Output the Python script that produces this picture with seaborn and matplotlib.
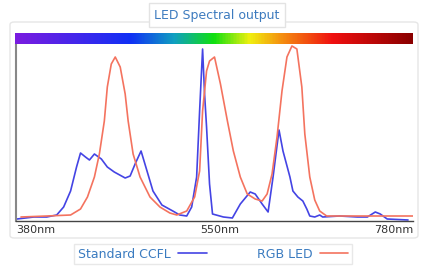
import numpy as np
import pandas as pd
import matplotlib
matplotlib.use("Agg")
import matplotlib.pyplot as plt
import seaborn as sns
from matplotlib.colors import LinearSegmentedColormap
from matplotlib.patches import FancyBboxPatch

# values (wavelength nm, relative intensity)
ccfl_nm = [381, 398, 411, 421, 428, 435, 441, 445, 450, 454, 459, 466, 472, 479, 490, 495,
           500, 506, 512, 518, 527, 538, 545, 552, 557, 562, 565, 568, 570, 572, 575, 578,
           589, 598, 606, 616, 621, 628, 634, 639, 645, 649, 656, 659, 664, 669, 673, 676,
           681, 686, 689, 706, 724, 734, 742, 747, 754, 775]
ccfl_val = [2, 4, 4, 6, 14, 30, 54, 68, 64, 61, 67, 62, 54, 49, 43, 45,
            57, 70, 50, 30, 16, 10, 6, 5, 14, 44, 110, 172, 127, 94, 37, 7,
            4, 3, 17, 29, 27, 17, 9, 44, 91, 70, 44, 30, 24, 20, 12, 5,
            4, 6, 4, 5, 4, 4, 9, 7, 2, 1]

led_nm = [385, 411, 435, 445, 452, 459, 464, 469, 472, 476, 480, 485, 490, 493, 498, 505,
          515, 525, 535, 542, 552, 560, 565, 568, 572, 575, 580, 586, 593, 599, 606, 613,
          621, 628, 633, 638, 643, 648, 653, 658, 663, 668, 671, 676, 681, 686, 693, 706, 780]
led_val = [4, 5, 6, 12, 24, 44, 67, 100, 134, 157, 164, 154, 127, 100, 67, 44,
           24, 14, 8, 6, 10, 24, 50, 110, 150, 160, 164, 137, 100, 70, 44, 27,
           22, 20, 27, 47, 84, 130, 164, 175, 172, 134, 87, 44, 21, 10, 5, 5, 5]

tick_pos = [380, 585, 780]
tick_labels = ["380nm", "550nm", "780nm"]
series_names = ["Standard CCFL", "RGB LED"]

df = pd.concat([
    pd.DataFrame({"nm": ccfl_nm, "val": ccfl_val, "series": series_names[0]}),
    pd.DataFrame({"nm": led_nm, "val": led_val, "series": series_names[1]}),
])

sns.set_style("white")
plt.rcParams['font.family'] = ['DejaVu Sans']

fig = plt.figure(figsize=(4.27, 2.69), dpi=100)
W, H = 427, 269

def box(x0, y0, x1, y1):
    return [x0 / W, 1 - y1 / H, (x1 - x0) / W, (y1 - y0) / H]

# faint outer panel behind everything
panel = FancyBboxPatch((10 / W, 1 - 238 / H), 408 / W, 216 / H,
                       boxstyle="round,pad=0,rounding_size=0.01",
                       transform=fig.transFigure, fc="none", ec="#e6e6e6", lw=1, zorder=-5)
fig.patches.append(panel)

ax = fig.add_axes(box(16, 44, 413, 221))
ax.patch.set_alpha(0)
sns.lineplot(data=df, x="nm", y="val", hue="series", ax=ax,
             palette={"Standard CCFL": "#4444e4", "RGB LED": "#f4735f"},
             linewidth=1.2, legend=False, sort=False)
for ln in ax.get_lines():
    ln.set_solid_joinstyle("round")
ax.set_xlim(380, 780)
ax.set_ylim(0, 177)
ax.set_yticks([])
ax.set_xlabel("")
ax.set_ylabel("")
ax.set_xticks(tick_pos)
ax.set_xticklabels(tick_labels, fontsize=8, color="#333333")
for lab, ha in zip(ax.get_xticklabels(), ["left", "center", "right"]):
    lab.set_horizontalalignment(ha)
ax.tick_params(axis="x", length=0, pad=3)
for s in ["top", "right"]:
    ax.spines[s].set_visible(False)
ax.spines["left"].set_color("#888888")
ax.spines["left"].set_linewidth(1.5)
ax.spines["bottom"].set_color("#444444")
ax.spines["bottom"].set_linewidth(1.0)

# spectrum bar
spec = LinearSegmentedColormap.from_list("spec", [
    (0.0, "#7a1ce0"), (0.29, "#1030f5"), (0.40, "#10a0c0"), (0.50, "#10e010"),
    (0.59, "#f0f010"), (0.67, "#f59010"), (0.80, "#f01010"), (1.0, "#8a0000")])
bar = fig.add_axes(box(15, 33, 413, 44))
bar.imshow(np.linspace(0, 1, 400)[None, :], aspect="auto", cmap=spec)
bar.axis("off")

# title box
fig.text(217 / W, 1 - 15 / H, "LED Spectral output", ha="center", va="center",
         fontsize=9, color="#3d7bbf",
         bbox=dict(boxstyle="square,pad=0.45", fc="white", ec="#e3e3e3", lw=1))

# legend
handles = [plt.Line2D([], [], color="#4444e4", lw=1.2),
           plt.Line2D([], [], color="#f4735f", lw=1.2)]
leg = fig.legend(handles, series_names, loc="center", bbox_to_anchor=(213 / W, 1 - 254 / H),
                 ncol=2, markerfirst=False, frameon=True, fontsize=9,
                 handlelength=2.3, columnspacing=4.0, handletextpad=0.6,
                 borderpad=0.3, fancybox=False, edgecolor="#e3e3e3")
for t in leg.get_texts():
    t.set_color("#3a7bc0")

fig.savefig("out.png", dpi=100, facecolor="white")
